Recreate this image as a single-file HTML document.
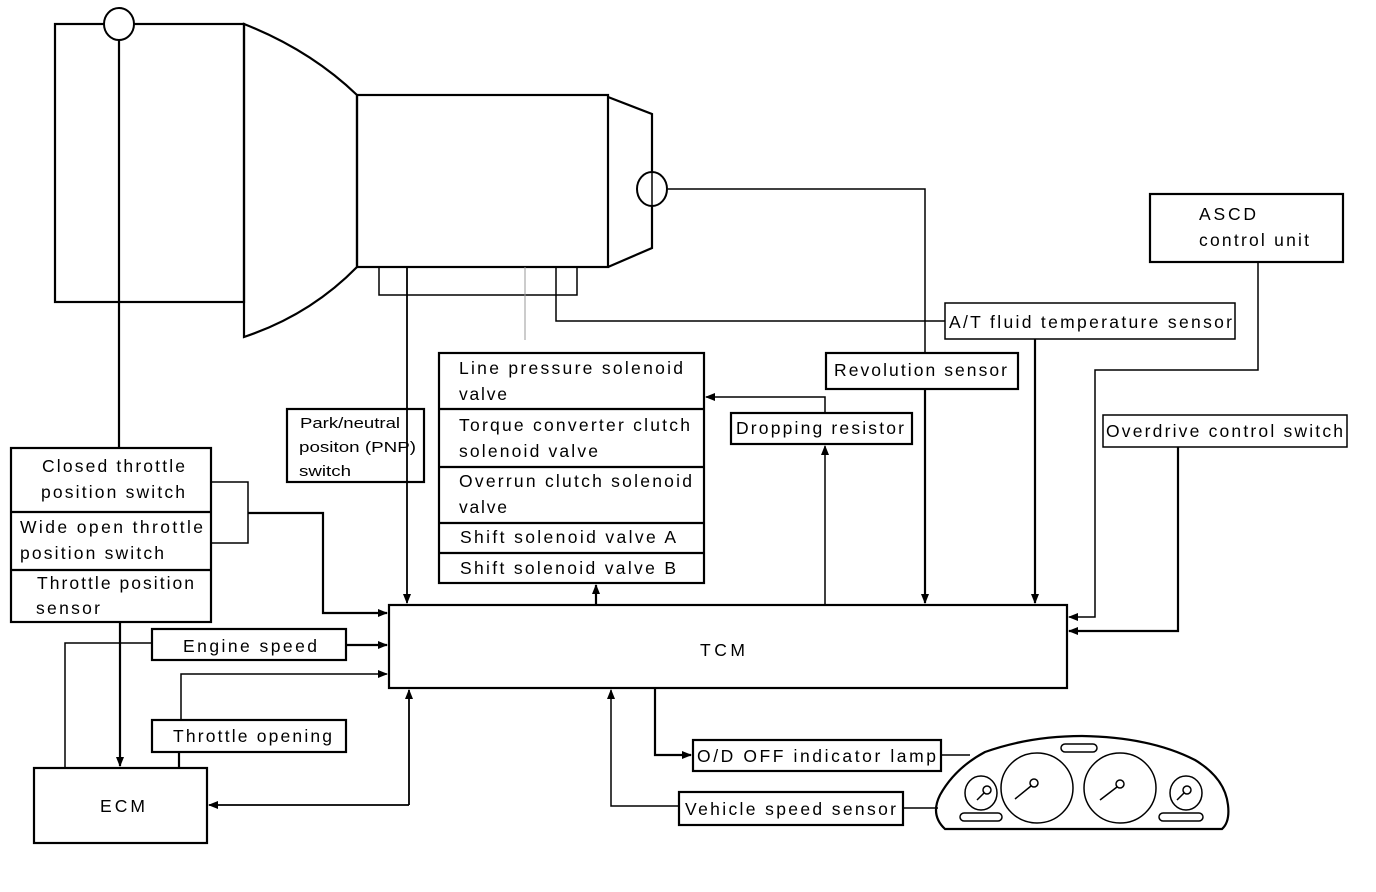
<!DOCTYPE html>
<html><head><meta charset="utf-8"><style>
html,body{margin:0;padding:0;background:#fff;}
svg{display:block;}
text{font-family:"Liberation Sans",Arial,sans-serif;font-size:17.5px;fill:#000;}
</style></head><body>
<svg width="1376" height="892" viewBox="0 0 1376 892" xmlns="http://www.w3.org/2000/svg">
<defs>
<marker id="a" markerWidth="10" markerHeight="8" refX="9" refY="4" orient="auto" markerUnits="userSpaceOnUse">
<path d="M0,0 L10,4 L0,8 Z" fill="#000"/></marker>
</defs>
<g fill="none" stroke="#000" stroke-width="2.2">
<rect x="55" y="24" width="189" height="278"/>
<path d="M244,24 Q310,50 357,95 L357,267 Q310,315 244,337 Z"/>
<rect x="357" y="95" width="251" height="172"/>
<path d="M608,97 L652,114 L652,248 L608,267"/>
<rect x="379" y="267" width="198" height="28" stroke-width="1.5"/>
<line x1="119" y1="40" x2="119" y2="448"/>
<path d="M668,189 L925,189 L925,353" stroke-width="1.5"/>
<path d="M925,389 L925,603" marker-end="url(#a)"/>
<path d="M407,267 L407,603" stroke-width="1.8" marker-end="url(#a)"/>
<line x1="525" y1="267" x2="525" y2="340" stroke-width="1" stroke="#999"/>
<path d="M556,267 L556,321 L945,321" stroke-width="1.5"/>
<rect x="287" y="409" width="137" height="73"/>
<rect x="439" y="353" width="265" height="230"/>
<line x1="439" y1="409" x2="704" y2="409"/>
<line x1="439" y1="467" x2="704" y2="467"/>
<line x1="439" y1="523" x2="704" y2="523"/>
<line x1="439" y1="553" x2="704" y2="553"/>
<rect x="731" y="413" width="181" height="31"/>
<rect x="826" y="353" width="192" height="36"/>
<rect x="945" y="303" width="290" height="36" stroke-width="1.5"/>
<rect x="1150" y="194" width="193" height="68"/>
<rect x="1103" y="415" width="244" height="32" stroke-width="1.5"/>
<rect x="389" y="605" width="678" height="83"/>
<rect x="11" y="448" width="200" height="174"/>
<line x1="11" y1="512" x2="211" y2="512"/>
<line x1="11" y1="570" x2="211" y2="570"/>
<rect x="152" y="629" width="194" height="31"/>
<rect x="152" y="720" width="194" height="32"/>
<rect x="34" y="768" width="173" height="75"/>
<rect x="693" y="740" width="248" height="31"/>
<rect x="679" y="792" width="224" height="33"/>
<path d="M825,605 L825,446" stroke-width="1.5" marker-end="url(#a)"/>
<path d="M825,413 L825,397 L706,397" stroke-width="1.5" marker-end="url(#a)"/>
<path d="M1035,339 L1035,603" marker-end="url(#a)"/>
<path d="M1258,262 L1258,370 L1095,370 L1095,617 L1069,617" stroke-width="1.5" marker-end="url(#a)"/>
<path d="M1178,447 L1178,631 L1069,631" marker-end="url(#a)"/>
<path d="M211,482 L248,482 L248,543 L211,543" stroke-width="1.5"/>
<path d="M248,513 L323,513 L323,613 L387,613" marker-end="url(#a)"/>
<path d="M346,645 L387,645" marker-end="url(#a)"/>
<path d="M152,643 L65,643 L65,768" stroke-width="1.5"/>
<path d="M181,720 L181,674 L387,674" stroke-width="1.5" marker-end="url(#a)"/>
<line x1="179" y1="752" x2="179" y2="768"/>
<path d="M120,622 L120,766" marker-end="url(#a)"/>
<path d="M409,805 L409,690" stroke-width="1.8" marker-end="url(#a)"/>
<path d="M409,805 L209,805" stroke-width="1.8" marker-end="url(#a)"/>
<path d="M596,605 L596,585" marker-end="url(#a)"/>
<path d="M655,688 L655,755 L691,755" marker-end="url(#a)"/>
<path d="M679,806 L611,806 L611,690" stroke-width="1.5" marker-end="url(#a)"/>
<line x1="941" y1="755" x2="970" y2="755" stroke-width="1.5"/>
<line x1="903" y1="808" x2="938" y2="808" stroke-width="1.5"/>
<path d="M945,829 Q930,815 940,795 Q955,768 985,752 Q1030,736 1082,736 Q1150,737 1195,760 Q1225,778 1228,805 Q1230,822 1222,829 Z"/>
<ellipse cx="981" cy="793" rx="16" ry="17" stroke-width="1.5"/>
<ellipse cx="1037" cy="788" rx="36" ry="35" stroke-width="1.5"/>
<ellipse cx="1120" cy="788" rx="36" ry="35" stroke-width="1.5"/>
<ellipse cx="1186" cy="793" rx="16" ry="17" stroke-width="1.5"/>
<rect x="1061" y="744" width="36" height="8" rx="4" stroke-width="1.5"/>
<rect x="960" y="813" width="42" height="8" rx="4" stroke-width="1.5"/>
<rect x="1159" y="813" width="44" height="8" rx="4" stroke-width="1.5"/>
<circle cx="987" cy="790" r="4" stroke-width="1.5"/><line x1="984" y1="793" x2="977" y2="800" stroke-width="1.5"/>
<circle cx="1034" cy="783" r="4" stroke-width="1.5"/><line x1="1031" y1="786" x2="1015" y2="799" stroke-width="1.5"/>
<circle cx="1120" cy="784" r="4" stroke-width="1.5"/><line x1="1117" y1="787" x2="1100" y2="800" stroke-width="1.5"/>
<circle cx="1187" cy="790" r="4" stroke-width="1.5"/><line x1="1184" y1="793" x2="1177" y2="800" stroke-width="1.5"/>
</g>
<ellipse cx="119" cy="24" rx="15" ry="16" fill="#fff" stroke="#000" stroke-width="2"/>
<ellipse cx="652" cy="189" rx="15" ry="17" fill="#fff" stroke="#000" stroke-width="2"/>
<line x1="652" y1="172" x2="652" y2="206" stroke="#000" stroke-width="1.5"/>
<g>
<text x="300" y="428" style="font-size:15px" textLength="100" lengthAdjust="spacingAndGlyphs">Park/neutral</text>
<text x="299" y="452" style="font-size:15px" textLength="117" lengthAdjust="spacingAndGlyphs">positon (PNP)</text>
<text x="299" y="476" style="font-size:15px" textLength="52" lengthAdjust="spacingAndGlyphs">switch</text>
<text x="459" y="374" textLength="224">Line pressure solenoid</text>
<text x="459" y="400" textLength="48">valve</text>
<text x="459" y="431" textLength="231">Torque converter clutch</text>
<text x="459" y="457" textLength="139">solenoid valve</text>
<text x="459" y="487" textLength="233">Overrun clutch solenoid</text>
<text x="459" y="513" textLength="48">valve</text>
<text x="460" y="543" textLength="216">Shift solenoid valve A</text>
<text x="460" y="574" textLength="216">Shift solenoid valve B</text>
<text x="736" y="434" textLength="168">Dropping resistor</text>
<text x="834" y="376" textLength="173">Revolution sensor</text>
<text x="949" y="328" textLength="283">A/T fluid temperature sensor</text>
<text x="1199" y="220" textLength="57">ASCD</text>
<text x="1199" y="246" textLength="110">control unit</text>
<text x="1106" y="437" textLength="237">Overdrive control switch</text>
<text x="700" y="656" textLength="45">TCM</text>
<text x="42" y="472" textLength="143">Closed throttle</text>
<text x="41" y="498" textLength="144">position switch</text>
<text x="20" y="533" textLength="183">Wide open throttle</text>
<text x="20" y="559" textLength="144">position switch</text>
<text x="37" y="589" textLength="157">Throttle position</text>
<text x="36" y="614" textLength="64">sensor</text>
<text x="183" y="652" textLength="134">Engine speed</text>
<text x="173" y="742" textLength="159">Throttle opening</text>
<text x="100" y="812" textLength="45">ECM</text>
<text x="697" y="762" textLength="239">O/D OFF indicator lamp</text>
<text x="685" y="815" textLength="211">Vehicle speed sensor</text>
</g>
</svg>
</body></html>
